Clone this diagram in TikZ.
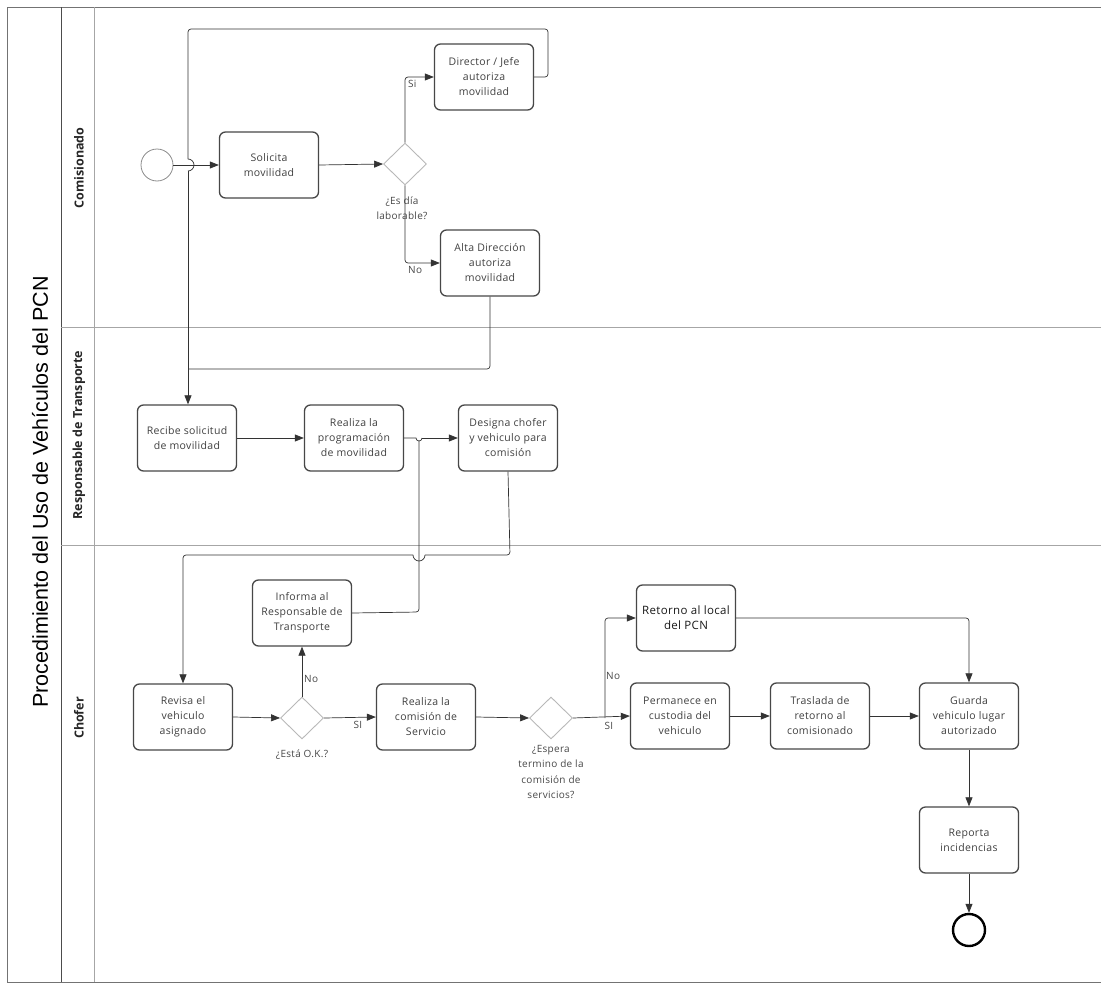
\documentclass[tikz,border=0pt]{standalone}
\usepackage{fontspec}
\setmainfont{Open Sans}
\newfontfamily\boxfont[LetterSpace=3]{Open Sans}
\newfontfamily\titlefont{Liberation Sans}
\usetikzlibrary{arrows.meta,shapes.geometric}
\begin{document}
\begin{tikzpicture}[x=1pt,y=-1pt,
  task/.style={draw=black!72, line width=1.3pt, rounded corners=6pt, minimum width=99pt, minimum height=66pt, inner sep=2pt, align=center, font=\boxfont\fontsize{10.5}{15}\selectfont, text=black!75, fill=white},
  gate/.style={diamond, draw=black!28, line width=0.9pt, minimum width=43pt, minimum height=42pt, inner sep=0pt, fill=white},
  flow/.style={draw=black!80, line width=0.7pt, rounded corners=3pt, -{Triangle[length=9pt,width=7pt]}},
  conn/.style={draw=black!80, line width=0.7pt, rounded corners=3pt},
  lbl/.style={font=\boxfont\fontsize{10}{15.5}\selectfont, text=black!72, align=center, inner sep=1pt},
  lane/.style={rotate=90, font=\bfseries\fontsize{12.5}{14}\selectfont, text=black!85},
  rule/.style={draw=black!35, line width=0.6pt},
]
\useasboundingbox (0,0) rectangle (1101,985);
% frame
\draw[black!55, line width=0.9pt] (1101,7) -- (7,7) -- (7,982) -- (1101,982);
\draw[black!70, line width=0.9pt] (61,7) -- (61,982);
\draw[rule] (94,7) -- (94,982);
\draw[rule] (61,327) -- (1101,327);
\draw[rule] (61,545) -- (1101,545);
\node[rotate=90, font=\titlefont\fontsize{21.5}{24}\selectfont] (title) at (40,492) {Procedimiento del Uso de Vehículos del PCN};
\node[lane] (l1) at (79,168) {Comisionado};
\node[lane] (l2) at (79,435) {Responsable de Transporte};
\node[lane] (l3) at (79,718) {Chofer};

% Comisionado
\node[circle, draw=black!45, line width=0.8pt, minimum size=32pt, inner sep=0pt] (start) at (157,165) {};
\node[task] (sol) at (269,165) {Solicita\\movilidad};
\node[gate] (g1) at (405,164) {};
\node[task] (dir) at (484,77) {Director / Jefe\\autoriza\\movilidad};
\node[task] (alta) at (490,263) {Alta Dirección\\autoriza\\movilidad};
\node[lbl] (g1l) at (402,208) {¿Es día\\laborable?};

% Responsable
\node[task] (rec) at (187,438) {Recibe solicitud\\de movilidad};
\node[task] (prog) at (354,438) {Realiza la\\programación\\de movilidad};
\node[task] (des) at (508,438) {Designa chofer\\y vehiculo para\\comisión};

% Chofer
\node[task] (inf) at (302,613) {Informa al\\Responsable de\\Transporte};
\node[task] (rev) at (183,717) {Revisa el\\vehiculo\\asignado};
\node[gate] (gok) at (302,718) {};
\node[lbl] (gokl) at (302,755) {¿Está O.K.?};
\node[task] (rcom) at (426,717) {Realiza la\\comisión de\\Servicio};
\node[gate] (gesp) at (551,718) {};
\node[lbl, anchor=north] (gespl) at (551,744) {¿Espera\\termino de la\\comisión de\\servicios?};
\node[task, font=\boxfont\fontsize{11.5}{15}\selectfont, text=black!90] (ret) at (686,618) {Retorno al local\\del PCN};
\node[task] (perm) at (680,716) {Permanece en\\custodia del\\vehiculo};
\node[task] (tras) at (820,716) {Traslada de\\retorno al\\comisionado};
\node[task] (guar) at (969,716) {Guarda\\vehiculo lugar\\autorizado};
\node[task] (rep) at (969,840) {Reporta\\incidencias};
\node[circle, draw=black, line width=2.4pt, minimum size=32pt, inner sep=0pt] (end) at (969,930) {};

% connectors - Comisionado
\draw[flow] (start.east) -- (sol.west);
\draw[flow] (sol.east) -- (g1.west);
\draw[flow] (g1.north) |- (dir.west);
\draw[flow] (g1.south) |- (alta.west);
\node[lbl, anchor=north west] (si1) at (407,79) {Si};
\node[lbl, anchor=north west] (no1) at (407,265) {No};
\coordinate (lr) at (548,29);
\coordinate (ll) at (188,29);
\draw[conn] (dir.east) -- (lr |- dir.east) -- (lr) -- (ll) -- (188,159);
\draw[black!80, line width=0.7pt] (188,159) arc[start angle=-90, end angle=90, radius=6];
\draw[flow] (188,171) -- (rec.north -| 188,0);
\draw[conn] (alta.south) -- (490,369) -- (188,369);

% Responsable
\draw[flow] (rec.east) -- (prog.west);
\draw[black!80, line width=0.7pt] (prog.east) -- (416,438) arc[start angle=180, end angle=0, radius=3] -- (422,438);
\draw[flow] (422,438) -- (des.west);
\draw[conn] (inf.east) -- (419,612) -- (419,441);
\draw[black!80, line width=0.7pt, rounded corners=3pt] (des.south) -- (510,555) -- (425,555);
\draw[black!80, line width=0.7pt] (425,555) arc[start angle=0, end angle=180, radius=6];
\draw[flow] (413,555) -- (183,555) -- (rev.north);

% Chofer
\draw[flow] (rev.east) -- (gok.west);
\draw[flow] (gok.north) -- (gok.north |- inf.south);
\node[lbl, anchor=west] (no2) at (303,679) {No};
\draw[flow] (gok.east) -- (rcom.west);
\node[lbl] (si2) at (358,725) {SI};
\draw[flow] (rcom.east) -- (gesp.west);
\draw[flow] (gesp.east) -- (perm.west);
\node[lbl] (si3) at (609,726) {SI};
\draw[flow] (605,718) -- (605,618) -- (ret.west);
\node[lbl, anchor=west] (no3) at (605,676) {No};
\draw[flow] (perm.east) -- (tras.west);
\draw[flow] (tras.east) -- (guar.west);
\draw[flow] (ret.east) -| (guar.north);
\draw[flow] (guar.south) -- (rep.north);
\draw[flow] (rep.south) -- (end.north);
\end{tikzpicture}
\end{document}
